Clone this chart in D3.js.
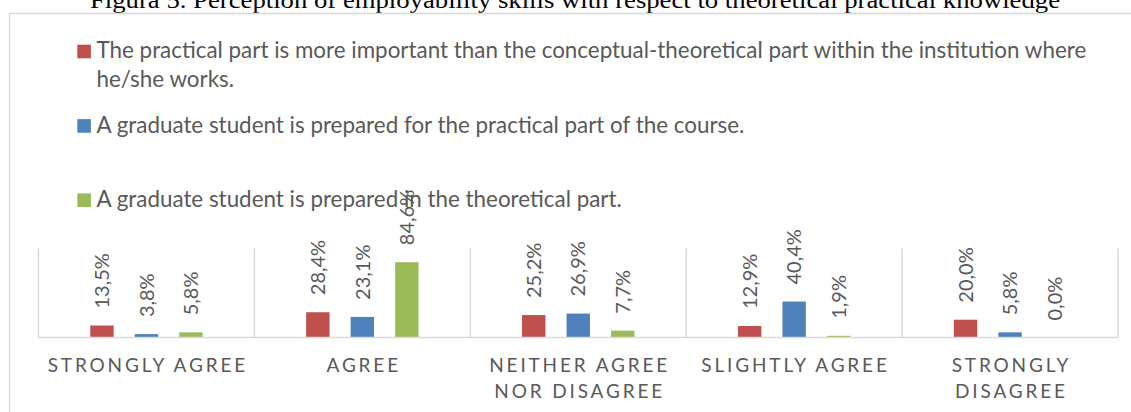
<!DOCTYPE html>
<html>
<head>
<meta charset="utf-8">
<script src="https://cdn.jsdelivr.net/npm/d3@7"></script>
<style>
  html, body { margin: 0; padding: 0; background: #ffffff; }
  svg { display: block; }
</style>
</head>
<body>
<svg id="chart" width="1131" height="412"></svg>
<script>
// ---------------- DATA ----------------
const titleText = "Figura 5. Perception of employability skills with respect to theoretical practical knowledge";
const categories = ["STRONGLY AGREE", "AGREE", "NEITHER AGREE NOR DISAGREE", "SLIGHTLY AGREE", "STRONGLY DISAGREE"];
const seriesNames = [
  "The practical part is more important than the conceptual-theoretical part within the institution where he/she works.",
  "A graduate student is prepared for the practical part of the course.",
  "A graduate student is prepared in the theoretical part."
];
const practicalMoreImportant = [13.5, 28.4, 25.2, 12.9, 20.0];
const preparedPractical      = [3.8, 23.1, 26.9, 40.4, 5.8];
const preparedTheoretical    = [5.8, 84.6, 7.7, 1.9, 0.0];
const seriesValues = [practicalMoreImportant, preparedPractical, preparedTheoretical];
const seriesColors = ["#C0504D", "#4F81BD", "#9BBB59"];

// ---------------- LAYOUT ----------------
const W = 1131, H = 412;
const plot = { left: 38.5, right: 1118, top: 248.5, bottom: 337.5 };
const textColor = "#595959";
const gridColor = "#D9D9D9";
const sansFont = "Lato, 'Open Sans', 'Noto Sans', sans-serif";
const legendLayout = { swatchX: 77.3, swatchSize: 13.6, textX: 96.5, lineGap: 29,
                       baselines: [58.3, 132.7, 207], maxWidth: 1010, fontSize: 22.4 };
const labelFont = 20, labelGap = 17;
const catFont = 19, catLS = 2.85, catMax = 212, catBase = 372.3, catLineGap = 25.4;

const svg = d3.select("#chart");
svg.append("rect").attr("width", W).attr("height", H).attr("fill", "#fff");

// measuring helper
const measurer = svg.append("text").attr("font-family", sansFont).attr("visibility", "hidden");
function measure(str, size, ls) {
  measurer.attr("font-size", size).attr("letter-spacing", ls || 0).text(str);
  return measurer.node().getComputedTextLength();
}
function wrapWords(str, size, ls, maxW) {
  const words = str.split(" ");
  const lines = [];
  let cur = "";
  words.forEach(w => {
    const test = cur ? cur + " " + w : w;
    if (cur && measure(test, size, ls) > maxW) { lines.push(cur); cur = w; }
    else cur = test;
  });
  if (cur) lines.push(cur);
  return lines;
}

// ---------------- TITLE (behind the chart box) ----------------
svg.append("text")
  .attr("x", 575).attr("y", 7.5)
  .attr("text-anchor", "middle")
  .attr("font-family", "'Liberation Serif', 'Times New Roman', serif")
  .attr("font-size", 24)
  .attr("fill", "#000")
  .attr("textLength", 970).attr("lengthAdjust", "spacingAndGlyphs")
  .text(titleText);

// chart box
svg.append("rect")
  .attr("x", 9.5).attr("y", 13.5)
  .attr("width", W + 20).attr("height", H + 20)
  .attr("fill", "#fff")
  .attr("stroke", gridColor).attr("stroke-width", 1.5);

// ---------------- SCALES ----------------
const x0 = d3.scaleBand().domain(categories).range([plot.left, plot.right]).paddingInner(0).paddingOuter(0);
const x1 = d3.scaleBand().domain(d3.range(seriesNames.length)).range([0, x0.bandwidth()])
  .paddingInner(0.474).paddingOuter(1.163);
const y = d3.scaleLinear().domain([0, 100]).range([plot.bottom, plot.top]);

// category separators
const edges = categories.map(c => x0(c)).concat([plot.right]);
svg.append("g").selectAll("line").data(edges).join("line")
  .attr("x1", d => d).attr("x2", d => d)
  .attr("y1", y(100)).attr("y2", y(0))
  .attr("stroke", gridColor).attr("stroke-width", 1.5);

// ---------------- BARS ----------------
const groups = svg.append("g").selectAll("g").data(categories).join("g")
  .attr("transform", c => `translate(${x0(c)},0)`);

const cells = (c, ci) => seriesValues.map((vals, si) => ({ si, v: vals[ci] }));

groups.selectAll("rect")
  .data(cells)
  .join("rect")
  .attr("x", d => x1(d.si))
  .attr("width", x1.bandwidth())
  .attr("y", d => y(d.v))
  .attr("height", d => y(0) - y(d.v))
  .attr("fill", d => seriesColors[d.si]);

// x axis line
const xAxis = d3.axisBottom(x0).tickSize(0).tickPadding(0).tickFormat("");
const axisG = svg.append("g").attr("transform", `translate(0,${y(0)})`).call(xAxis);
axisG.select(".domain").attr("stroke", gridColor).attr("stroke-width", 1.5)
  .attr("d", `M${plot.left},0H${plot.right}`);

// data labels (rotated, reading upward, starting above the bar)
const fmt = v => d3.format(".1f")(v).replace(".", ",") + "%";
groups.selectAll("text.lbl")
  .data(cells)
  .join("text")
  .attr("class", "lbl")
  .attr("transform", d => `translate(${x1(d.si) + x1.bandwidth() / 2},${y(d.v) - labelGap}) rotate(-90)`)
  .attr("dy", "0.36em")
  .attr("text-anchor", "start")
  .attr("font-family", sansFont)
  .attr("font-size", labelFont)
  .attr("fill", textColor)
  .text(d => fmt(d.v));

// ---------------- CATEGORY LABELS ----------------
const catG = svg.append("g");
categories.forEach(c => {
  const lines = wrapWords(c, catFont, catLS, catMax);
  const t = catG.append("text")
    .attr("text-anchor", "middle")
    .attr("font-family", sansFont)
    .attr("font-size", catFont)
    .attr("letter-spacing", catLS)
    .attr("fill", textColor);
  lines.forEach((ln, i) => {
    t.append("tspan")
      .attr("x", x0(c) + x0.bandwidth() / 2 + catLS / 2)
      .attr("y", catBase + i * catLineGap)
      .text(ln);
  });
});

// ---------------- LEGEND ----------------
const legend = svg.append("g");
seriesNames.forEach((name, i) => {
  const base = legendLayout.baselines[i];
  legend.append("rect")
    .attr("x", legendLayout.swatchX)
    .attr("y", base - legendLayout.swatchSize)
    .attr("width", legendLayout.swatchSize)
    .attr("height", legendLayout.swatchSize)
    .attr("fill", seriesColors[i]);
  const lines = wrapWords(name, legendLayout.fontSize, 0, legendLayout.maxWidth);
  lines.forEach((ln, li) => {
    legend.append("text")
      .attr("x", legendLayout.textX)
      .attr("y", base + li * legendLayout.lineGap)
      .attr("font-family", sansFont)
      .attr("font-size", legendLayout.fontSize)
      .attr("fill", textColor)
      .text(ln);
  });
});

measurer.remove();
</script>
</body>
</html>
